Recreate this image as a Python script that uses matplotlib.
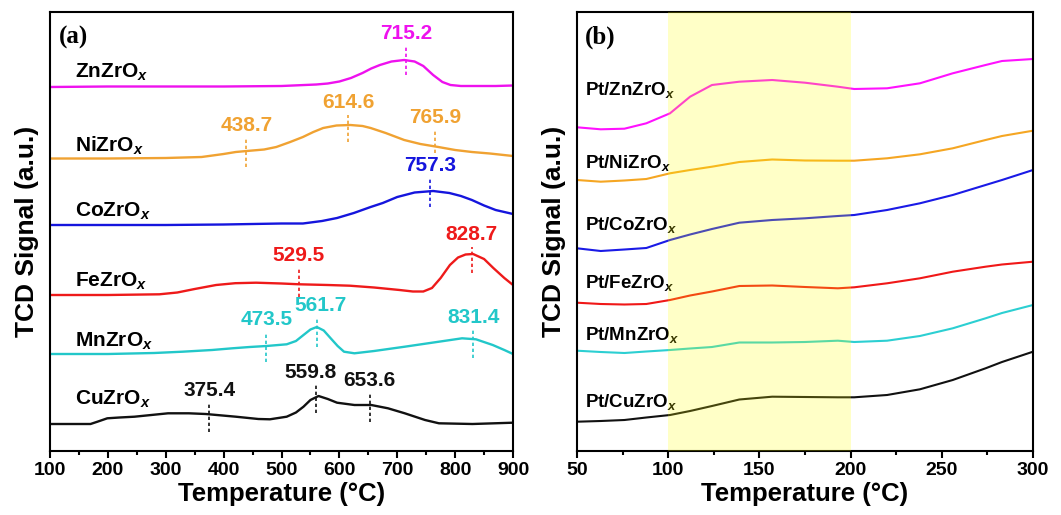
import matplotlib
matplotlib.use("Agg")
import matplotlib.pyplot as plt
from matplotlib.ticker import MultipleLocator

plt.rcParams['font.family'] = ['Liberation Sans', 'DejaVu Sans']
plt.rcParams['font.weight'] = 'bold'
plt.rcParams['mathtext.fontset'] = 'custom'
plt.rcParams['mathtext.rm'] = 'Liberation Sans:bold'
plt.rcParams['mathtext.it'] = 'Liberation Sans:italic:bold'

# ---- panel (a): H2-TPR of MZrOx ----
zn_t = [100, 200, 300, 400, 500, 540, 560, 580, 600, 620, 640, 655, 670, 690, 712, 730, 745, 762, 778, 792, 810, 840, 870, 900]
zn_y = [364, 364.5, 364.5, 364.5, 365, 366, 366.5, 367.5, 369.5, 373, 378, 382.5, 386, 389.5, 391, 389.5, 385, 376, 369, 366, 365, 365, 365, 365.5]

ni_t = [100, 200, 300, 362, 400, 421, 440, 470, 491, 515, 537, 555, 572, 595, 619, 640, 654, 680, 712, 740, 771, 800, 829, 860, 900]
ni_y = [292.5, 292.5, 293, 294, 297, 299, 300, 301.5, 304, 309, 314, 319, 323, 325.5, 326, 325, 323, 318, 311, 307, 304, 301, 299, 297.5, 295]

co_t = [100, 200, 300, 400, 500, 537, 570, 596, 625, 654, 675, 700, 730, 762, 790, 810, 829, 850, 870, 900]
co_y = [226, 226, 226, 226.5, 227.5, 227.5, 230, 233, 238, 244, 248, 254, 258.5, 260, 258, 255, 251, 245.5, 241, 237]

fe_t = [100, 200, 289, 320, 350, 387, 420, 456, 500, 531, 580, 618, 660, 704, 727, 745, 760, 775, 791, 805, 818, 831, 850, 866, 885, 900]
fe_y = [156, 156, 156.7, 158.5, 162, 166, 167.8, 168.3, 167.5, 166.7, 166, 165.3, 163.5, 161, 159.5, 159.5, 163, 173, 186, 193.5, 196.5, 197, 192, 183, 173, 166]

mn_t = [100, 200, 280, 329, 380, 415, 445, 474, 509, 525, 538, 550, 561, 573, 585, 597, 608, 626, 660, 713, 772, 812, 836, 865, 885, 900]
mn_y = [97, 97, 98, 99.3, 101, 102.7, 104, 105, 106.7, 110, 116, 121.5, 124, 120.5, 112.7, 105, 99.3, 97.7, 100, 104.3, 109.3, 112.7, 111.7, 106, 101, 97]

cu_t = [100, 150, 170, 182, 199, 220, 246, 275, 304, 340, 369, 421, 460, 480, 509, 525, 538, 550, 564, 580, 596, 626, 655, 684, 713, 748, 772, 830, 900]
cu_y = [27, 27, 27, 29.3, 32.7, 33.5, 34.3, 36, 37.7, 37.7, 37, 34.3, 32, 31.7, 34.3, 38.5, 44.3, 51, 55, 52, 48.3, 46, 46, 42.7, 37.7, 31, 27.7, 27, 28.3]

samples_a = ['ZnZrO$_x$', 'NiZrO$_x$', 'CoZrO$_x$', 'FeZrO$_x$', 'MnZrO$_x$', 'CuZrO$_x$']
colors_a = ['#EE11EE', '#F0A232', '#1515DD', '#EE1A1A', '#22C7C9', '#111111']
curves_a = [(zn_t, zn_y), (ni_t, ni_y), (co_t, co_y), (fe_t, fe_y), (mn_t, mn_y), (cu_t, cu_y)]
label_y_a = [373, 299, 234, 164, 104, 46]

# peak markers: (sample index, temperature, marker top, marker bottom)
peak_idx = [0, 1, 1, 1, 2, 3, 3, 4, 4, 4, 5, 5, 5]
peak_t = [715.2, 438.7, 614.6, 765.9, 757.3, 529.5, 828.7, 473.5, 561.7, 831.4, 375.4, 559.8, 653.6]
peak_top = [405, 313, 336, 321, 273, 183, 204, 119, 133, 121, 48, 66, 58]
peak_bot = [376, 284, 309, 298, 244, 154, 178, 89, 104, 93, 19, 38, 29]
peak_lbl_x = [715, 439, 615, 766, 757, 530, 829, 474, 568, 831, 375, 550, 652]

# ---- panel (b): Pt/MZrOx ----
b_t = [50, 63, 76, 88, 101, 112, 124, 139, 157, 175, 193, 202, 220, 238, 256, 274, 283, 300]
pzn_y = [323.7, 321.7, 322.3, 327.7, 337.7, 354.3, 366, 369.3, 371, 368.3, 364.3, 362, 362.7, 367.7, 377.7, 386, 390, 392]
pni_y = [271, 269.3, 270.5, 272, 277.7, 281, 284.3, 289, 291.5, 290.5, 290.3, 290.3, 292.7, 296.7, 302.7, 311, 315, 320.3]
pco_y = [202.7, 200, 201.5, 203, 211, 216.5, 222, 228.3, 231, 232.7, 235, 236, 241, 247.7, 256, 266, 271, 281]
pfe_y = [148.3, 147, 146.5, 147, 151, 155.5, 159.5, 165, 165.5, 164, 162.7, 163.7, 167.7, 172.7, 179.3, 184.3, 186.5, 189.3]
pmn_y = [100.3, 99, 98, 99.5, 101, 102.5, 104, 108.5, 108.5, 109, 110.3, 109, 110.3, 115, 122.7, 132.7, 138, 146]
pcu_y = [29.3, 30, 31, 33.5, 36, 40, 45, 51.5, 54.3, 54, 53.7, 53.7, 56, 61.7, 71, 82.7, 89, 99.3]

samples_b = ['Pt/ZnZrO$_x$', 'Pt/NiZrO$_x$', 'Pt/CoZrO$_x$', 'Pt/FeZrO$_x$', 'Pt/MnZrO$_x$', 'Pt/CuZrO$_x$']
colors_b = ['#FF11FF', '#F5A623', '#1A1AE6', '#F01818', '#2CCFD2', '#111111']
curves_b = [pzn_y, pni_y, pco_y, pfe_y, pmn_y, pcu_y]
label_y_b = [356, 282.7, 221, 162.7, 111, 44.3]

fig = plt.figure(figsize=(10.61, 5.15), dpi=100)
ax1 = fig.add_axes([50 / 1061, 64 / 515, 463 / 1061, 439 / 515])
ax2 = fig.add_axes([577 / 1061, 64 / 515, 456 / 1061, 439 / 515])

for i, (t, y) in enumerate(curves_a):
    ax1.plot(t, y, color=colors_a[i], lw=1.7)
    ax1.text(143, label_y_a[i], samples_a[i], fontsize=15, va='baseline', ha='left')

for k in range(len(peak_t)):
    c = colors_a[peak_idx[k]]
    ax1.plot([peak_t[k], peak_t[k]], [peak_bot[k], peak_top[k]], color=c, lw=1.2,
             ls=(0, (2, 1.6)))
    ax1.text(peak_lbl_x[k], peak_top[k] + 3, f'{peak_t[k]:.1f}', color=c, fontsize=15,
             ha='center', va='bottom')

ax1.text(115, 425, '(a)', fontsize=18, fontweight='bold', family='Liberation Serif',
         va='top', ha='left')
ax1.set_xlim(100, 900)
ax1.set_ylim(0, 439)
ax1.xaxis.set_major_locator(MultipleLocator(100))
ax1.xaxis.set_minor_locator(MultipleLocator(50))
ax1.set_xlabel('Temperature (\u00b0C)', fontsize=18.5, fontweight='bold', labelpad=2)
ax1.set_ylabel('TCD Signal (a.u.)', fontsize=19, fontweight='bold', labelpad=8)

for i, y in enumerate(curves_b):
    ax2.plot(b_t, y, color=colors_b[i], lw=1.5)
    ax2.text(54.5, label_y_b[i], samples_b[i], fontsize=13.5, va='baseline', ha='left')

ax2.axvspan(100, 200, color='#FFFF00', alpha=0.22, lw=0, zorder=10)
ax2.text(54.5, 425, '(b)', fontsize=18, fontweight='bold', family='Liberation Serif',
         va='top', ha='left')
ax2.set_xlim(50, 300)
ax2.set_ylim(0, 439)
ax2.xaxis.set_major_locator(MultipleLocator(50))
ax2.xaxis.set_minor_locator(MultipleLocator(25))
ax2.set_xlabel('Temperature (\u00b0C)', fontsize=18.5, fontweight='bold', labelpad=2)
ax2.set_ylabel('TCD Signal (a.u.)', fontsize=19, fontweight='bold', labelpad=8)

for ax in (ax1, ax2):
    ax.set_yticks([])
    for s in ax.spines.values():
        s.set_linewidth(1.5)
    ax.tick_params(axis='x', which='major', direction='out', length=5, width=1.5,
                   labelsize=14, pad=3)
    ax.tick_params(axis='x', which='minor', direction='out', length=3, width=1.5)
    for lab in ax.get_xticklabels():
        lab.set_fontweight('bold')

fig.savefig('out.png', dpi=100)
